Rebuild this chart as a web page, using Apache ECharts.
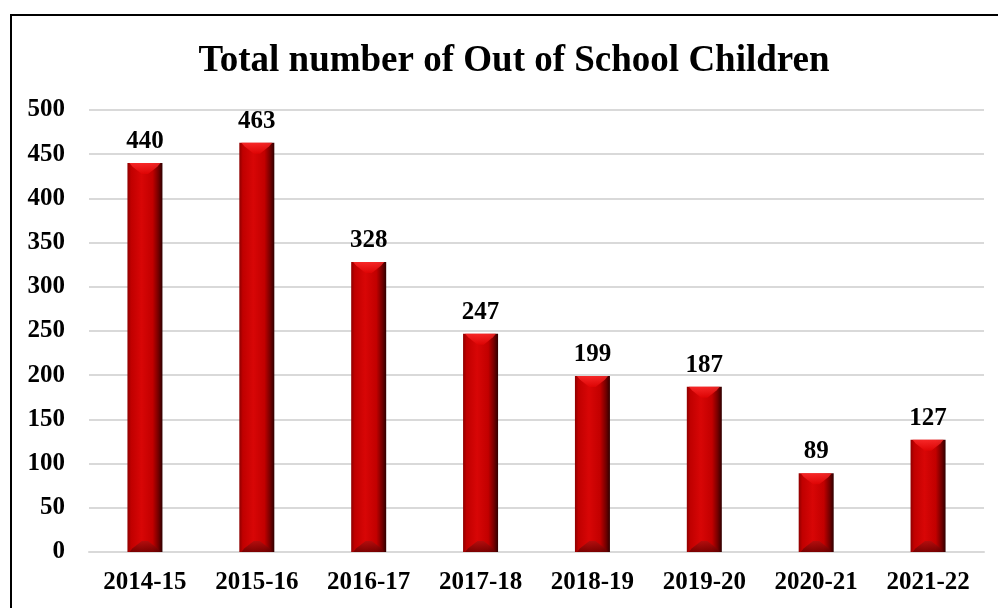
<!DOCTYPE html>
<html>
<head>
<meta charset="utf-8">
<script src="https://cdn.jsdelivr.net/npm/echarts@6/dist/echarts.min.js"></script>
<style>
  html, body { margin: 0; padding: 0; background: #fff; }
  #chart { width: 998px; height: 608px; }
</style>
</head>
<body>
<div id="chart"></div>
<script>
// School years on the category axis
const years = ['2014-15', '2015-16', '2016-17', '2017-18', '2018-19', '2019-20', '2020-21', '2021-22'];
// Out-of-school children per year
const outOfSchool = [440, 463, 328, 247, 199, 187, 89, 127];
// Value axis ticks
const yTicks = [0, 50, 100, 150, 200, 250, 300, 350, 400, 450, 500];

const serif = '"Liberation Serif", "Times New Roman", serif';

const chart = echarts.init(document.getElementById('chart'), null, { renderer: 'canvas' });

// Cylinder-like shading across each bar
const barFill = new echarts.graphic.LinearGradient(0, 0, 1, 0, [
  { offset: 0, color: '#8e0000' },
  { offset: 0.1, color: '#c00000' },
  { offset: 0.4, color: '#d80606' },
  { offset: 0.72, color: '#c20000' },
  { offset: 0.88, color: '#760000' },
  { offset: 1, color: '#300000' }
]);
// Bevelled facet at the top of each bar
const capFill = new echarts.graphic.LinearGradient(0, 0, 0, 1, [
  { offset: 0, color: '#ff3030' },
  { offset: 1, color: '#e00404' }
]);
// Darker facet at the foot of each bar
const footFill = new echarts.graphic.LinearGradient(0, 0, 0, 1, [
  { offset: 0, color: '#a81010' },
  { offset: 1, color: '#600000' }
]);

const barW = 35;

chart.setOption({
  animation: false,
  backgroundColor: '#ffffff',
  title: {
    text: 'Total number of Out of School Children',
    left: 509,
    textAlign: 'center',
    top: 38,
    textStyle: { fontFamily: serif, fontWeight: 'bold', fontSize: 37, color: '#000' }
  },
  graphic: [{
    type: 'rect',
    shape: { x: 11, y: 15, width: 1000, height: 620 },
    style: { fill: 'none', stroke: '#000', lineWidth: 2 },
    silent: true
  }],
  grid: { left: 89, right: 14, top: 110, bottom: 56, containLabel: false },
  xAxis: {
    type: 'category',
    data: years,
    axisLine: { show: true, lineStyle: { color: '#d9d9d9', width: 2 } },
    axisTick: { show: false },
    axisLabel: { fontFamily: serif, fontWeight: 'bold', fontSize: 25, color: '#000', margin: 18 }
  },
  yAxis: {
    type: 'value',
    min: yTicks[0],
    max: yTicks[yTicks.length - 1],
    interval: yTicks[1] - yTicks[0],
    axisLine: { show: false },
    axisTick: { show: false },
    splitLine: { lineStyle: { color: '#d9d9d9', width: 2 } },
    axisLabel: { fontFamily: serif, fontWeight: 'bold', fontSize: 25, color: '#000', margin: 24 }
  },
  series: [{
    type: 'bar',
    data: outOfSchool,
    barWidth: barW,
    z: 2,
    itemStyle: { color: barFill },
    label: {
      show: true,
      position: 'top',
      distance: 9,
      fontFamily: serif,
      fontWeight: 'bold',
      fontSize: 25,
      color: '#000'
    }
  }, {
    type: 'pictorialBar',
    data: outOfSchool,
    symbol: 'path://M0,0 L10,0 L9,1 L6,3 L4,3 L1,1 Z',
    symbolSize: [barW - 4, 11],
    symbolPosition: 'end',
    symbolOffset: [0, 0],
    barGap: '-100%',
    z: 3,
    silent: true,
    itemStyle: { color: capFill, opacity: 0.8 }
  }, {
    type: 'pictorialBar',
    data: outOfSchool,
    symbol: 'path://M4,0 L6,0 L9,2 L10,3 L0,3 L1,2 Z',
    symbolSize: [barW - 4, 11],
    symbolPosition: 'start',
    symbolOffset: [0, 0],
    barGap: '-100%',
    z: 3,
    silent: true,
    itemStyle: { color: footFill, opacity: 0.75 }
  }]
});
</script>
</body>
</html>
